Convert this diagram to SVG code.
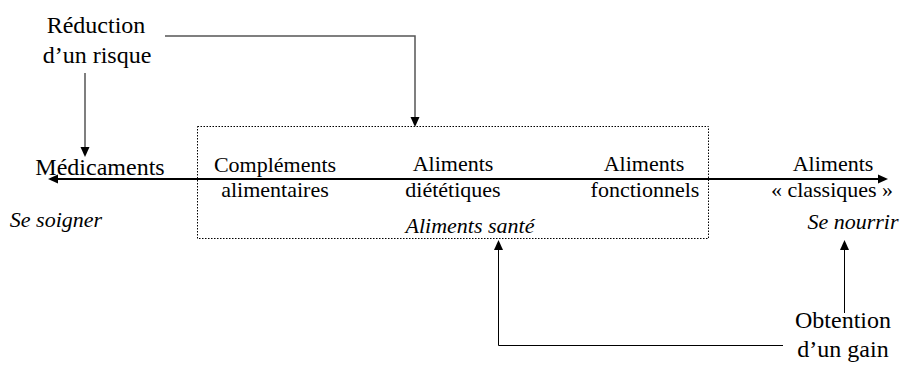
<svg xmlns="http://www.w3.org/2000/svg" width="904" height="367" viewBox="0 0 904 367">
<g id="box-aliments-sante">
<rect x="197.5" y="126.5" width="511" height="112" fill="none" stroke="#000" stroke-width="1" stroke-dasharray="1.5 1.5"/>
<text x="470" y="233" font-family="Times New Roman, Tinos, Liberation Serif, serif" font-size="22" font-style="italic" text-anchor="middle">Aliments santé</text>
</g>
<g id="connectors" fill="#000">
<line x1="58" y1="179" x2="878" y2="179" stroke="#000" stroke-width="2"/>
<polygon points="878,174.5 888,179 878,183.5"/>
<polygon points="58,174.5 48,179 58,183.5"/>
<polyline points="165,36 415,36 415,118" fill="none" stroke="#555" stroke-width="1.5"/>
<polygon points="410.5,117 415,127 419.5,117"/>
<line x1="85" y1="73" x2="85" y2="148" stroke="#555" stroke-width="1.5"/>
<polygon points="80.5,147 85,157 89.5,147"/>
<polyline points="783,345.5 498.5,345.5 498.5,249" fill="none" stroke="#000" stroke-width="1"/>
<polygon points="494,250 498.5,240 503,250"/>
<line x1="844.5" y1="313" x2="844.5" y2="249" stroke="#000" stroke-width="1"/>
<polygon points="840,250 844.5,240 849,250"/>
</g>
<g id="reduction">
<text x="96" y="33" font-family="Times New Roman, Tinos, Liberation Serif, serif" font-size="24" text-anchor="middle">Réduction</text>
<text x="97" y="63" font-family="Times New Roman, Tinos, Liberation Serif, serif" font-size="24" text-anchor="middle">d’un risque</text>
</g>
<g id="medicaments">
<text x="100" y="175" font-family="Times New Roman, Tinos, Liberation Serif, serif" font-size="24" text-anchor="middle">Médicaments</text>
<text x="56" y="227" font-family="Times New Roman, Tinos, Liberation Serif, serif" font-size="22" font-style="italic" text-anchor="middle">Se soigner</text>
</g>
<g id="complements">
<text x="275" y="172" font-family="Times New Roman, Tinos, Liberation Serif, serif" font-size="22" text-anchor="middle">Compléments</text>
<text x="275" y="197" font-family="Times New Roman, Tinos, Liberation Serif, serif" font-size="22" text-anchor="middle">alimentaires</text>
</g>
<g id="dietetiques">
<text x="453" y="171" font-family="Times New Roman, Tinos, Liberation Serif, serif" font-size="22" text-anchor="middle">Aliments</text>
<text x="453" y="197" font-family="Times New Roman, Tinos, Liberation Serif, serif" font-size="22" text-anchor="middle">diététiques</text>
</g>
<g id="fonctionnels">
<text x="644" y="171" font-family="Times New Roman, Tinos, Liberation Serif, serif" font-size="22" text-anchor="middle">Aliments</text>
<text x="645" y="197" font-family="Times New Roman, Tinos, Liberation Serif, serif" font-size="22" text-anchor="middle">fonctionnels</text>
</g>
<g id="classiques">
<text x="833" y="171" font-family="Times New Roman, Tinos, Liberation Serif, serif" font-size="22" text-anchor="middle">Aliments</text>
<text x="832" y="197" font-family="Times New Roman, Tinos, Liberation Serif, serif" font-size="22" text-anchor="middle">« classiques »</text>
<text x="853" y="229" font-family="Times New Roman, Tinos, Liberation Serif, serif" font-size="22" font-style="italic" text-anchor="middle">Se nourrir</text>
</g>
<g id="obtention">
<text x="843" y="328" font-family="Times New Roman, Tinos, Liberation Serif, serif" font-size="24" text-anchor="middle">Obtention</text>
<text x="843" y="357" font-family="Times New Roman, Tinos, Liberation Serif, serif" font-size="24" text-anchor="middle">d’un gain</text>
</g>
</svg>
